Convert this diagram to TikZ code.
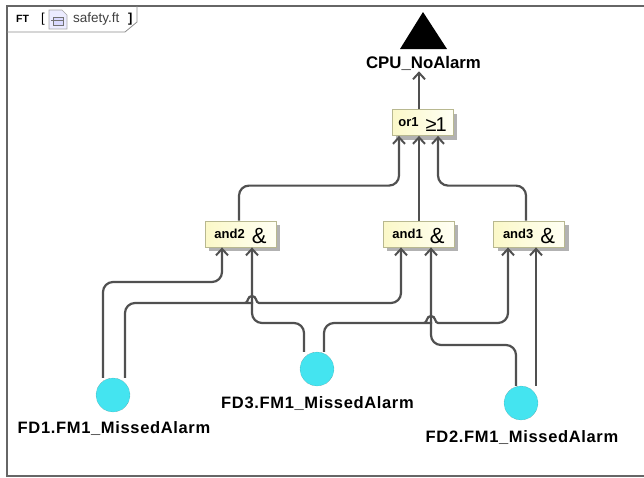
\documentclass[tikz,border=0pt]{standalone}
\usepackage{fontspec}
\setmainfont{Liberation Sans}
\newfontfamily\labelfont[LetterSpace=4]{Liberation Sans}
\usetikzlibrary{arrows.meta,shadows}
\definecolor{wirecol}{HTML}{505050}
\definecolor{framecol}{HTML}{666666}
\definecolor{gateleft}{HTML}{FBF8C8}
\definecolor{gateright}{HTML}{FFFFF4}
\definecolor{gateline}{HTML}{B8B890}
\definecolor{eventcol}{HTML}{44E4F0}
\newcommand{\gatetext}[2]{\fontsize{13}{13}\selectfont\bfseries #1\hspace{7pt}\raisebox{-5pt}{\fontsize{22}{22}\selectfont\mdseries #2}}
\tikzset{
    wire/.style={draw=wirecol, line width=2.2pt, rounded corners=10pt},
    arrowwire/.style={wire, -{Straight Barb[length=6.5pt,width=12pt,line width=2pt]}},
    gate/.style={rectangle, draw=gateline, line width=0.8pt, left color=gateleft, right color=gateright, inner sep=0pt, minimum height=26pt, text height=13pt, text depth=5pt,
        drop shadow={shadow xshift=4pt, shadow yshift=-4pt, fill=black!30, opacity=1}},
    event/.style={circle, draw=wirecol, densely dotted, line width=0.3pt, fill=eventcol, inner sep=0pt, minimum size=34pt},
    eventlabel/.style={font=\labelfont\fontsize{16.5}{16.5}\selectfont\bfseries, inner sep=0pt}
}
\begin{document}
\begin{tikzpicture}[x=1pt,y=-1pt]
        \useasboundingbox (0,0) rectangle (644,477);

        % frame and tab
        \draw[framecol, line width=2pt] (7,477) -- (7,6) -- (644,6);
        \draw[framecol, line width=1.4pt] (7,476) -- (644,476);
        \draw[black!45, line width=0.8pt] (7,32) -- (125,32) -- (137,22) -- (137,6);
        \node[anchor=base west, inner sep=0pt, font=\fontsize{10.5}{10.5}\selectfont\bfseries] (tabkind) at (16,22) {FT};
        \node[anchor=base west, inner sep=0pt, font=\fontsize{13}{13}\selectfont] (tabopen) at (41,22) {[};
        \node[anchor=base west, inner sep=0pt, font=\fontsize{13.5}{13.5}\selectfont, text=black!75] (tabname) at (73,22) {safety.ft};
        \node[anchor=base west, inner sep=0pt, font=\fontsize{13}{13}\selectfont\bfseries] (tabclose) at (128,22) {]};

        % small file icon
        \draw[black!35, fill=blue!8, line width=0.6pt] (49,10) -- (62,10) -- (67,15) -- (67,29) -- (49,29) -- cycle;
        \draw[black!55, fill=blue!15, line width=0.6pt] (53,17) rectangle (63,25);
        \draw[black!55, line width=0.6pt] (53,20) -- (63,20);
        \draw[black!55, line width=0.6pt] (51,20) -- (53,20);

        % top event
        \fill[black] (400,49) -- (423,12) -- (447,49) -- cycle;
        \node[eventlabel, font=\fontsize{16.8}{16.8}\selectfont\bfseries] (cpu) at (423.5,63) {CPU\_NoAlarm};

        % gates
        \node[gate, minimum width=61pt] (or1) at (422.5,122.5) {\gatetext{or1}{\fontsize{20}{20}\selectfont ≥\kern-1pt 1}};
        \node[gate, minimum width=71pt] (and2) at (240.5,234) {\gatetext{and2}{\&}};
        \node[gate, minimum width=71pt] (and1) at (418.5,234) {\gatetext{and1}{\&}};
        \node[gate, minimum width=71pt] (and3) at (529,234) {\gatetext{and3}{\&}};

        % basic events
        \node[event] (fd1) at (113,395) {};
        \node[event] (fd3) at (317,369) {};
        \node[event] (fd2) at (521,403) {};
        \node[eventlabel] (fd1text) at (114,429) {FD1.FM1\_MissedAlarm};
        \node[eventlabel] (fd3text) at (317.5,403.5) {FD3.FM1\_MissedAlarm};
        \node[eventlabel] (fd2text) at (522,437.5) {FD2.FM1\_MissedAlarm};

        % upper connectors
        \draw[arrowwire] ([xshift=-3.5pt]or1.north) -- ([xshift=-4.5pt,yshift=-1pt]cpu.south);
        \draw[arrowwire] ([xshift=-1.5pt]and2.north) -- ++(0,-35) -| ([xshift=-23.5pt]or1.south);
        \draw[arrowwire] ([xshift=0.5pt]and1.north) -- ([xshift=-3.5pt]or1.south);
        \draw[arrowwire] ([xshift=-3pt]and3.north) -- ++(0,-35) -| ([xshift=15.5pt]or1.south);

        % lower connectors
        \draw[arrowwire] ([xshift=-10pt]fd1.north) |- (222,282) -- ([xshift=-18.5pt]and2.south);
        \draw[arrowwire] ([xshift=-13pt]fd3.north) |- (252,323) -- ([xshift=11.5pt]and2.south);
        \draw[arrowwire] ([xshift=12pt]fd1.north) |- (243,303) [sharp corners] -- (245,303) .. controls (248.5,303) and (247,296) .. (252,296) .. controls (257,296) and (255.5,303) .. (259,303) [rounded corners=10pt] -| ([xshift=-17.5pt]and1.south);
        \draw[arrowwire] ([xshift=7pt]fd3.north) |- (422,323) [sharp corners] -- (424,323) .. controls (427.5,323) and (426,316) .. (431,316) .. controls (436,316) and (434.5,323) .. (438,323) [rounded corners=10pt] -| ([xshift=-21pt]and3.south);
        \draw[arrowwire] ([xshift=-5pt]fd2.north) |- (431,345) -- ([xshift=12.5pt]and1.south);
        \draw[arrowwire] ([xshift=15pt]fd2.north) -- ([xshift=7pt]and3.south);

    \end{tikzpicture}
\end{document}
